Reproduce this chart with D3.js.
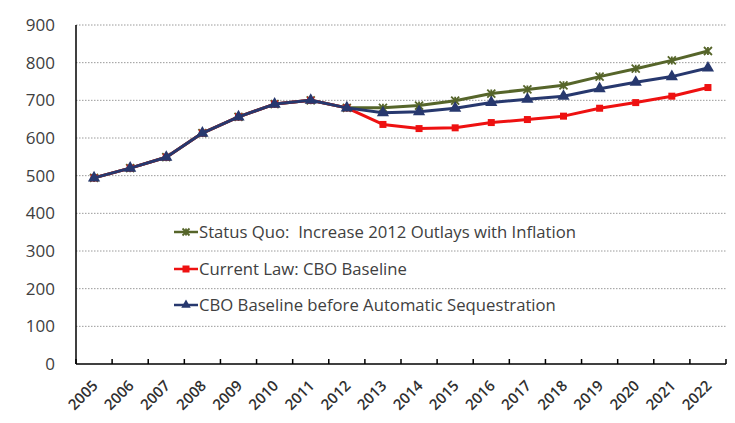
<!DOCTYPE html>
<html><head><meta charset="utf-8">
<script src="https://cdn.jsdelivr.net/npm/d3@7"></script>
<style>body{margin:0;background:#fff}svg{display:block}</style>
</head><body>
<script>
const years = ["2005","2006","2007","2008","2009","2010","2011","2012","2013","2014","2015","2016","2017","2018","2019","2020","2021","2022"];
const statusQuo = [494,520,549,613,656,690,700,680,680,686,699,718,729,740,763,784,806,831];
const currentLaw = [494,520,549,613,656,690,700,680,636,625,627,641,649,658,679,694,711,734];
const beforeSeq = [494,520,549,613,656,690,700,680,667,670,679,694,703,711,731,748,763,786];
const yTicks = [0,100,200,300,400,500,600,700,800,900];
const seriesNames = ["Status Quo:  Increase 2012 Outlays with Inflation","Current Law: CBO Baseline","CBO Baseline before Automatic Sequestration"];

const W=735,H=423;
const svg=d3.select("body").append("svg").attr("width",W).attr("height",H);
const L=76,R=726,T=25,B=364;
const x=d3.scaleBand().domain(years).range([L,R]);
const y=d3.scaleLinear().domain([0,900]).range([B,T]);

svg.append("g").selectAll("line").data(yTicks.filter(d=>d>0)).join("line")
 .attr("x1",L).attr("x2",R).attr("y1",d=>y(d)).attr("y2",d=>y(d))
 .attr("stroke","#9a9a9a").attr("stroke-width",1).attr("stroke-dasharray","1.5,1.5");

svg.append("g").selectAll("text").data(yTicks).join("text")
 .attr("x",55).attr("y",d=>y(d)).attr("dy","0.35em").attr("text-anchor","end")
 .attr("font-family","'Open Sans', sans-serif").attr("font-size",17).attr("fill","#404040")
 .text(d=>d);

svg.append("line").attr("x1",L).attr("x2",L).attr("y1",T).attr("y2",B).attr("stroke","#000").attr("stroke-width",1.5);
svg.append("line").attr("x1",L).attr("x2",R).attr("y1",B).attr("y2",B).attr("stroke","#000").attr("stroke-width",1.5);
const tickPos=years.map(d=>x(d)+x.bandwidth()).concat([L]);
svg.append("g").selectAll("line").data(tickPos).join("line")
 .attr("x1",d=>d).attr("x2",d=>d).attr("y1",B).attr("y2",B-5).attr("stroke","#000").attr("stroke-width",1.5);

svg.append("g").selectAll("text").data(years).join("text")
 .attr("transform",d=>`translate(${x(d)+x.bandwidth()/2+1},${B+19}) rotate(-45)`)
 .attr("text-anchor","end").attr("dy","0.35em")
 .attr("font-family","'Open Sans', sans-serif").attr("font-size",15).attr("font-weight",600).attr("fill","#303030")
 .text(d=>d);

const cx=d=>x(d)+x.bandwidth()/2;
const series=[
 {vals:statusQuo,color:"#56652a",marker:"x",ms:4},
 {vals:currentLaw,color:"#ee1111",marker:"square",ms:3.5},
 {vals:beforeSeq,color:"#27386e",marker:"tri",ms:4.5}
];
const line=d3.line().x(d=>cx(d.year)).y(d=>y(d.v));
function drawMarker(g,m,color,px,py,s){
 if(m==="square") g.append("rect").attr("x",px-s).attr("y",py-s).attr("width",2*s).attr("height",2*s).attr("fill",color);
 else if(m==="tri") g.append("path").attr("d",d3.symbol(d3.symbolTriangle,s*s*3.2)()).attr("transform",`translate(${px},${py})`).attr("fill",color);
 else g.append("path").attr("d",`M${px-s},${py-s}L${px+s},${py+s}M${px-s},${py+s}L${px+s},${py-s}M${px},${py-s}L${px},${py+s}`).attr("stroke",color).attr("stroke-width",1.8).attr("fill","none");
}
series.forEach(s=>{
 const data=years.map((yr,i)=>({year:yr,v:s.vals[i]}));
 svg.append("path").datum(data).attr("d",line).attr("fill","none").attr("stroke",s.color).attr("stroke-width",3).attr("stroke-linejoin","round");
 const g=svg.append("g");
 data.forEach(d=>drawMarker(g,s.marker,s.color,cx(d.year),y(d.v),s.ms));
});

const legY=[232,269,305];
series.forEach((s,i)=>{
 const g=svg.append("g");
 g.append("line").attr("x1",174).attr("x2",198).attr("y1",legY[i]).attr("y2",legY[i]).attr("stroke",s.color).attr("stroke-width",2.5);
 drawMarker(g,s.marker,s.color,186,legY[i],3.5);
 g.append("text").attr("x",199).attr("y",legY[i]).attr("dy","0.35em")
  .style("white-space","pre")
  .attr("font-family","'Open Sans', sans-serif").attr("font-size",16.7).attr("fill","#404040")
  .text(seriesNames[i]);
});
</script>
</body></html>
